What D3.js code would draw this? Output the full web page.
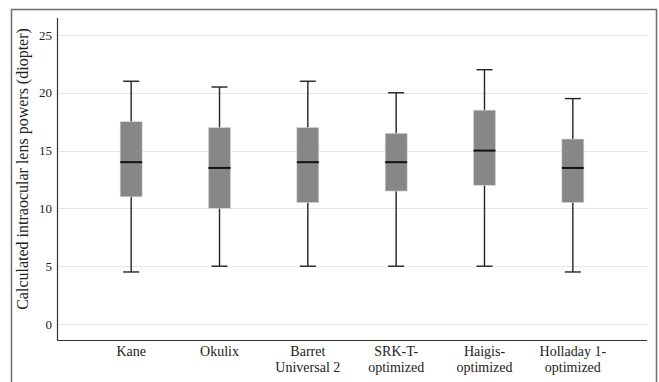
<!DOCTYPE html>
<html>
<head>
<meta charset="utf-8">
<script src="https://cdn.jsdelivr.net/npm/d3@7"></script>
<style>
  body { margin: 0; background: #fff; }
  svg { display: block; }
  svg text { font-family: "Liberation Serif", "Times New Roman", serif; }
</style>
</head>
<body>
<svg id="chart" width="659" height="382"></svg>
<script>
// box plot values
const formulas = ['Kane', 'Okulix', 'Barret Universal 2', 'SRK-T-optimized', 'Haigis-optimized', 'Holladay 1-optimized'];
const labelLines = [['Kane'], ['Okulix'], ['Barret', 'Universal 2'], ['SRK-T-', 'optimized'], ['Haigis-', 'optimized'], ['Holladay 1-', 'optimized']];
const whiskerLow = [4.5, 5, 5, 5, 5, 4.5];
const q1 = [11, 10, 10.5, 11.5, 12, 10.5];
const median = [14, 13.5, 14, 14, 15, 13.5];
const q3 = [17.5, 17, 17, 16.5, 18.5, 16];
const whiskerHigh = [21, 20.5, 21, 20, 22, 19.5];
const yTicks = [0, 5, 10, 15, 20, 25];

const data = formulas.map((f, i) => ({
  name: f, lines: labelLines[i],
  lo: whiskerLow[i], q1: q1[i], med: median[i], q3: q3[i], hi: whiskerHigh[i]
}));

const serif = '"Liberation Serif", "Times New Roman", serif';
const svg = d3.select('#chart');

// outer frame
svg.append('path')
  .attr('d', 'M11.5,390 V9.5 H656.5 V390')
  .attr('fill', 'none')
  .attr('stroke', '#6e6e6e')
  .attr('stroke-width', 1.5);

const plotLeft = 57, plotRight = 647, plotTop = 18, plotBottom = 340;

const x = d3.scaleBand()
  .domain(formulas)
  .range([87, 617])
  .padding(0);

const y = d3.scaleLinear()
  .domain([0, 25])
  .range([324, 35]);

// gridlines
svg.append('g')
  .selectAll('line')
  .data(yTicks)
  .join('line')
  .attr('x1', plotLeft + 1)
  .attr('x2', plotRight)
  .attr('y1', d => Math.round(y(d)) + 0.5)
  .attr('y2', d => Math.round(y(d)) + 0.5)
  .attr('stroke', '#e6e6e6')
  .attr('stroke-width', 1.2);

// y axis
const yAxis = svg.append('g')
  .attr('transform', `translate(${plotLeft},0)`)
  .call(d3.axisLeft(y).tickValues(yTicks).tickSize(0).tickPadding(5));
yAxis.attr('font-family', serif).attr('font-size', 13);
yAxis.select('.domain').remove();
yAxis.selectAll('text').attr('fill', '#222');

svg.append('line')
  .attr('x1', plotLeft + 0.5).attr('x2', plotLeft + 0.5)
  .attr('y1', plotTop).attr('y2', plotBottom)
  .attr('stroke', '#333').attr('stroke-width', 1.2);

svg.append('line')
  .attr('x1', plotLeft).attr('x2', plotRight)
  .attr('y1', plotBottom + 0.5).attr('y2', plotBottom + 0.5)
  .attr('stroke', '#333').attr('stroke-width', 1.2);

// y title
svg.append('text')
  .attr('transform', 'translate(28,169) rotate(-90)')
  .attr('text-anchor', 'middle')
  .attr('font-family', serif)
  .attr('font-size', 16)
  .attr('fill', '#222')
  .text('Calculated intraocular lens powers (diopter)');

// boxes
const boxW = 22, capW = 8;
const g = svg.append('g')
  .selectAll('g')
  .data(data)
  .join('g')
  .attr('transform', d => `translate(${x(d.name) + x.bandwidth() / 2},0)`);

g.append('line')
  .attr('x1', 0).attr('x2', 0)
  .attr('y1', d => y(d.hi)).attr('y2', d => y(d.lo))
  .attr('stroke', '#222').attr('stroke-width', 1.4);

g.selectAll('.cap')
  .data(d => [d.hi, d.lo])
  .join('line')
  .attr('class', 'cap')
  .attr('x1', -capW).attr('x2', capW)
  .attr('y1', d => y(d)).attr('y2', d => y(d))
  .attr('stroke', '#222').attr('stroke-width', 1.4);

g.append('rect')
  .attr('x', -boxW / 2)
  .attr('width', boxW)
  .attr('y', d => y(d.q3))
  .attr('height', d => y(d.q1) - y(d.q3))
  .attr('fill', '#878787')
  .attr('stroke', '#d9d9d9')
  .attr('stroke-width', 0.6);

g.append('line')
  .attr('x1', -boxW / 2).attr('x2', boxW / 2)
  .attr('y1', d => y(d.med)).attr('y2', d => y(d.med))
  .attr('stroke', '#111').attr('stroke-width', 2);

// x labels
g.append('text')
  .attr('text-anchor', 'middle')
  .attr('font-family', serif)
  .attr('font-size', 14)
  .attr('fill', '#222')
  .selectAll('tspan')
  .data(d => d.lines)
  .join('tspan')
  .attr('x', 0)
  .attr('y', (d, i) => 356 + i * 15.5)
  .text(d => d);
</script>
</body>
</html>
